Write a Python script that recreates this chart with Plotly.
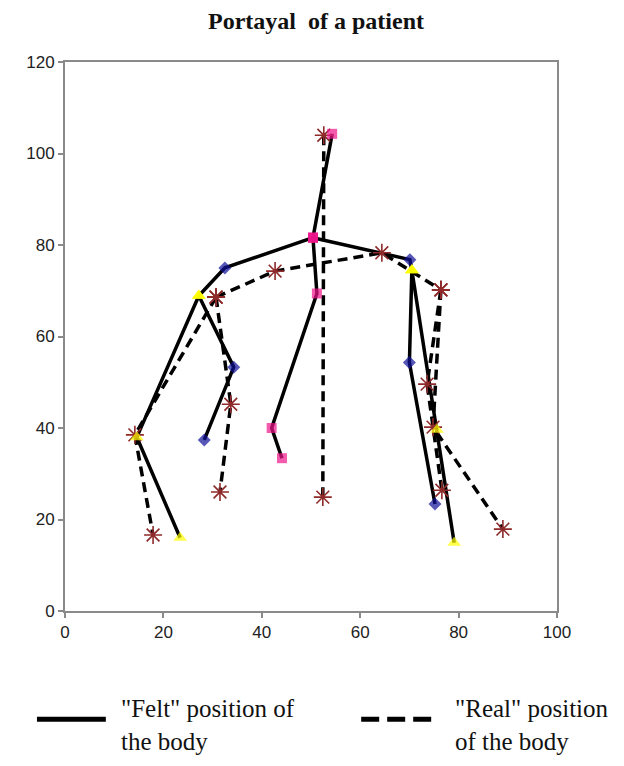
import plotly.graph_objects as go

# ---- "Felt" position of the body (solid) ----
felt_spine_x = [54.3, 50.4, 51.2, 42.0, 44.1]
felt_spine_y = [104.3, 81.6, 69.4, 40.0, 33.4]
felt_lshoulder_x = [50.4, 32.5, 27.2]
felt_lshoulder_y = [81.6, 75.0, 68.9]
felt_larm_x = [27.2, 34.3, 28.3]
felt_larm_y = [68.9, 53.3, 37.4]
felt_lleg_x = [27.2, 14.6, 23.4]
felt_lleg_y = [68.9, 38.0, 16.0]
felt_rshoulder_x = [50.4, 70.1, 70.5]
felt_rshoulder_y = [81.6, 76.8, 74.5]
felt_rarm_x = [70.5, 70.0, 75.2]
felt_rarm_y = [74.5, 54.3, 23.4]
felt_rleg_x = [70.5, 75.6, 79.1]
felt_rleg_y = [74.5, 39.6, 14.9]

# ---- "Real" position of the body (dashed) ----
real_spine_x = [52.6, 52.4]
real_spine_y = [104.0, 24.9]
real_shoulders_x = [30.7, 42.7, 64.4, 76.4]
real_shoulders_y = [68.6, 74.3, 78.3, 70.2]
real_larm_x = [30.7, 33.7, 31.5]
real_larm_y = [68.6, 45.2, 26.0]
real_lleg_x = [30.7, 14.2, 17.9]
real_lleg_y = [68.6, 38.5, 16.6]
real_rarm_x = [76.4, 73.6, 76.6]
real_rarm_y = [70.2, 49.6, 26.4]
real_rleg_x = [76.4, 74.8, 89.0]
real_rleg_y = [70.2, 40.2, 17.9]

x_ticks = [0, 20, 40, 60, 80, 100]
y_ticks = [0, 20, 40, 60, 80, 100, 120]

PINK = "#F0148C"
BLUE = "#10109A"
YEL = "#FFFF00"
AST = "#8E2A2A"

sq = dict(symbol="square", color=PINK, size=10)
dm = dict(symbol="diamond", color=BLUE, size=10)
tr = dict(symbol="triangle-up", color=YEL, size=12)

felt = [
    (felt_spine_x, felt_spine_y, [sq] * 5),
    (felt_lshoulder_x, felt_lshoulder_y, [sq, dm, tr]),
    (felt_larm_x, felt_larm_y, [tr, dm, dm]),
    (felt_lleg_x, felt_lleg_y, [tr, tr, tr]),
    (felt_rshoulder_x, felt_rshoulder_y, [sq, dm, tr]),
    (felt_rarm_x, felt_rarm_y, [tr, dm, dm]),
    (felt_rleg_x, felt_rleg_y, [tr, tr, tr]),
]
real = [
    (real_spine_x, real_spine_y),
    (real_shoulders_x, real_shoulders_y),
    (real_larm_x, real_larm_y),
    (real_lleg_x, real_lleg_y),
    (real_rarm_x, real_rarm_y),
    (real_rleg_x, real_rleg_y),
]

fig = go.Figure()

# lines first
for xs, ys in real:
    fig.add_trace(go.Scatter(x=xs, y=ys, mode="lines", showlegend=False,
                             line=dict(color="black", width=3.5, dash="10px,6px"),
                             hoverinfo="skip"))
for xs, ys, _ in felt:
    fig.add_trace(go.Scatter(x=xs, y=ys, mode="lines", showlegend=False,
                             line=dict(color="black", width=3.5),
                             hoverinfo="skip"))

# markers on top
for xs, ys in real:
    fig.add_trace(go.Scatter(x=xs, y=ys, mode="markers", showlegend=False,
                             marker=dict(symbol="asterisk-open", size=15, color=AST,
                                         line=dict(color=AST, width=1.6))))
for xs, ys, mk in felt:
    fig.add_trace(go.Scatter(x=xs, y=ys, mode="markers", showlegend=False,
                             marker=dict(symbol=[m["symbol"] for m in mk],
                                         color=[m["color"] for m in mk],
                                         size=[m["size"] for m in mk],
                                         line=dict(width=0))))

axis_common = dict(showgrid=False, zeroline=False, showline=True, linecolor="#8a8a8a",
                   linewidth=2, mirror=True, ticks="outside", ticklen=5,
                   tickcolor="#8a8a8a", tickwidth=1.5,
                   tickfont=dict(family="Liberation Sans, Arial", size=17, color="#222"))

fig.update_xaxes(range=[0, 100], tickvals=x_ticks, ticktext=[str(v) for v in x_ticks],
                 **axis_common)
fig.update_yaxes(range=[0, 120], tickvals=y_ticks, ticktext=[str(v) for v in y_ticks],
                 **axis_common)

# legend drawn below the plot
fig.add_shape(type="line", xref="paper", yref="paper", x0=-0.057, x1=0.083,
              y0=-0.197, y1=-0.197, line=dict(color="black", width=5))
fig.add_shape(type="line", xref="paper", yref="paper", x0=0.602, x1=0.746,
              y0=-0.197, y1=-0.197, line=dict(color="black", width=5, dash="18px,8px"))
fig.add_annotation(xref="paper", yref="paper", x=0.110, y=-0.207, xanchor="left",
                   yanchor="middle", align="left", showarrow=False,
                   text='"Felt" position of<br>the body',
                   font=dict(family="Liberation Serif, Times New Roman", size=25, color="#111"))
fig.add_annotation(xref="paper", yref="paper", x=0.789, y=-0.207, xanchor="left",
                   yanchor="middle", align="left", showarrow=False,
                   text='"Real" position<br>of the body',
                   font=dict(family="Liberation Serif, Times New Roman", size=25, color="#111"))

# the page has an 8px body margin, so the figure is 8px smaller and offsets are shifted
fig.update_layout(
    width=616, height=758,
    margin=dict(l=57, r=67, t=54, b=155),
    paper_bgcolor="white", plot_bgcolor="white",
    title=dict(text="Portayal\u00a0 of a patient", x=0.5, xanchor="center",
               y=1 - 13 / 758, yanchor="middle",
               font=dict(family="Liberation Serif, Times New Roman", size=24, color="#111",
                         weight="bold")),
    showlegend=False,
)

fig.write_html("out.html")
